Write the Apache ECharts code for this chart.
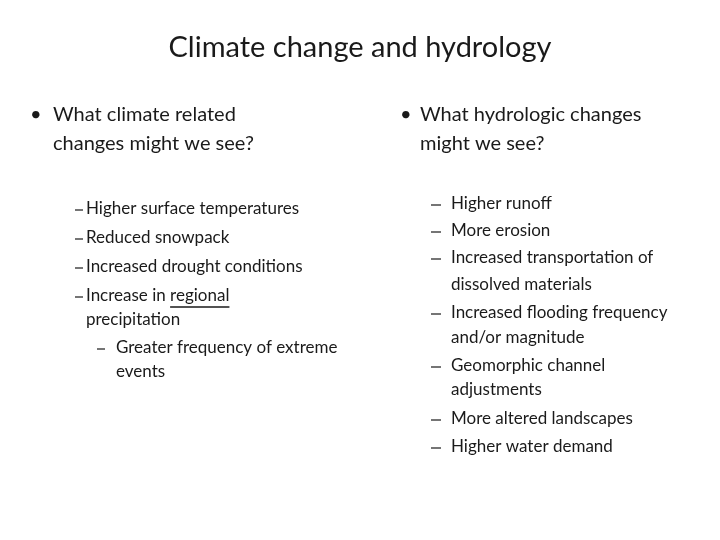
<!DOCTYPE html>
<html><head><meta charset="utf-8">
<script src="https://cdn.jsdelivr.net/npm/echarts@6/dist/echarts.min.js"></script>
<style>html,body{margin:0;background:#fff}#c{width:720px;height:540px}</style>
</head><body><div id="c"></div>
<script>
const title = "Climate change and hydrology";
const leftHead = ["What climate related", "changes might we see?"];
const rightHead = ["What hydrologic changes", "might we see?"];
// [dash?, text, indent]
const leftItems = [
  [true, "Higher surface temperatures", 0],
  [true, "Reduced snowpack", 0],
  [true, "Increased drought conditions", 0],
  [true, "Increase in regional", 0],
  [false, "precipitation", 0],
  [true, "Greater frequency of extreme", 1],
  [false, "events", 1]
];
const leftY = [209, 238, 267, 296, 320, 348, 372];
const rightItems = [
  [true, "Higher runoff"],
  [true, "More erosion"],
  [true, "Increased transportation of"],
  [false, "dissolved materials"],
  [true, "Increased flooding frequency"],
  [false, "and/or magnitude"],
  [true, "Geomorphic channel"],
  [false, "adjustments"],
  [true, "More altered landscapes"],
  [true, "Higher water demand"]
];
const rightY = [204, 231, 258, 285, 313, 338, 366, 390, 419, 447];

const F = "Lato, 'Open Sans', sans-serif";
const C = "#1a1a1a";
const SZ = 17;
function t(x, y, s, size, align) {
  return {type:'text', x, y, style:{text:s, font:size+'px '+F, fill:C, textAlign:align||'left', textVerticalAlign:'middle'}};
}
function dash(x, y, w) {
  return {type:'line', shape:{x1:x, y1:y+1, x2:x+w, y2:y+1}, style:{stroke:C, lineWidth:1.2}};
}
const ctx = document.createElement('canvas').getContext('2d');
ctx.font = SZ + 'px ' + F;
const g = [];
g.push(t(360, 48, title, 29, 'center'));
g.push(t(30, 115, "•", 20));
g.push(t(53, 115, leftHead[0], 20));
g.push(t(53, 144, leftHead[1], 20));
g.push(t(400, 115, "•", 20));
g.push(t(420, 115, rightHead[0], 20));
g.push(t(420, 144, rightHead[1], 20));
leftItems.forEach((it, i) => {
  const ind = it[2] ? 22 : 0;
  if (it[0]) g.push(dash(75 + ind, leftY[i], 8));
  g.push(t(86 + ind + (it[2] ? 8 : 0), leftY[i], it[1], SZ));
});
// underline under "regional"
const ux = 86 + ctx.measureText("Increase in ").width;
const uw = ctx.measureText("regional").width;
g.push({type:'line', shape:{x1:ux, y1:307, x2:ux + uw, y2:307}, style:{stroke:C, lineWidth:1.3}});
rightItems.forEach((it, i) => {
  if (it[0]) g.push(dash(431, rightY[i], 10));
  g.push(t(451, rightY[i], it[1], SZ));
});
const chart = echarts.init(document.getElementById('c'));
chart.setOption({backgroundColor:'#fff', graphic:g});
</script></body></html>
